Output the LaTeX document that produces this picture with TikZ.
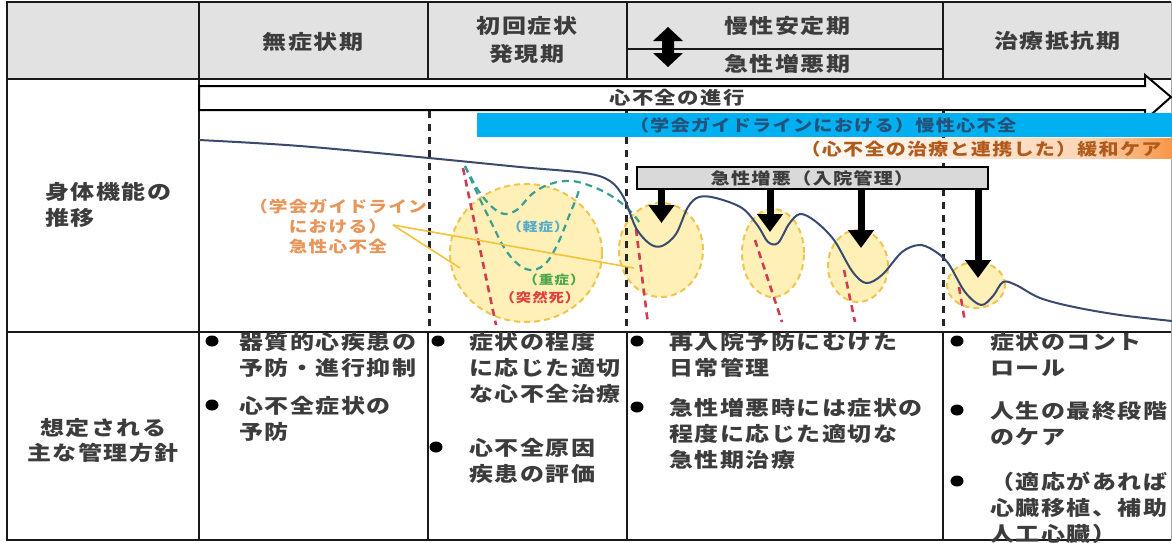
\documentclass[tikz,border=0pt]{standalone}
\usepackage{fontspec}
\usetikzlibrary{arrows.meta,shapes.geometric}
\newfontfamily\jp[FakeStretch=1.2,LetterSpace=7.5]{Noto Sans CJK JP}
\newcommand{\jpb}{\jp\bfseries}
\definecolor{hdr}{HTML}{E2E2E2}
\definecolor{txtg}{HTML}{3C3C3C}
\definecolor{curvec}{HTML}{3A4A6E}
\definecolor{ycfill}{HTML}{FFEFB0}
\definecolor{ycdraw}{HTML}{EEC550}
\definecolor{bluebar}{HTML}{00B0F0}
\definecolor{bluetxt}{HTML}{24527A}
\definecolor{orng}{HTML}{F79646}
\definecolor{orngtxt}{HTML}{B05A1C}
\definecolor{lbltxt}{HTML}{E8955A}
\definecolor{redd}{HTML}{D03C50}
\definecolor{teal}{HTML}{3A9E92}
\definecolor{lighttxt}{HTML}{55AACC}
\definecolor{greentxt}{HTML}{4CA64C}
\definecolor{redtxt}{HTML}{E04040}
\definecolor{goldline}{HTML}{F2C43A}
\definecolor{graybox}{HTML}{D9D9D9}
\tikzset{
  tbl/.style={line width=2pt, draw=black!90},
  vdash/.style={line width=3pt, draw=black!85, dash pattern=on 7pt off 6pt},
  reddash/.style={line width=2.6pt, draw=redd, dash pattern=on 7pt off 5pt},
  tealdash/.style={line width=2.2pt, draw=teal, dash pattern=on 7pt off 5pt},
  ycirc/.style={ellipse, inner sep=0pt, fill=ycfill, fill opacity=0.9, draw=ycdraw, line width=2pt, dash pattern=on 6pt off 4pt},
  hd/.style={font=\jpb\fontsize{20}{28}\selectfont, text=txtg, inner sep=0pt},
  body/.style={font=\jpb\fontsize{20}{26}\selectfont, text=txtg, inner sep=0pt, anchor=north west, align=left},
  bul/.style={ellipse, fill=black, minimum width=13pt, minimum height=11pt, inner sep=0pt},
  bigarrow/.style={line width=7pt, draw=black, -{Triangle[width=25pt,length=18pt]}},
  goldln/.style={line width=1.6pt, draw=goldline},
}
\begin{document}
\begin{tikzpicture}[x=1pt,y=-1pt]
\useasboundingbox (0,0) rectangle (1172,542);
\fill[white] (0,0) rectangle (1172,542);
% header fill
\fill[hdr] (7,2) rectangle (1171,79);
% yellow circles
\node[ycirc, minimum width=152pt, minimum height=138pt] (c1) at (526,253) {};
\node[ycirc, minimum width=84pt, minimum height=94pt] (c2) at (661,250) {};
\node[ycirc, minimum width=62pt, minimum height=88pt] (c3) at (773,253) {};
\node[ycirc, minimum width=60pt, minimum height=72pt] (c4) at (858,266) {};
\node[ycirc, minimum width=58pt, minimum height=46pt] (c5) at (976,285) {};
% table lines
\draw[line width=1pt, draw=black!35] (1171,2) -- (1171,540);
\draw[tbl] (1171,2) -- (7,2) -- (7,540) -- (1171,540);
\draw[tbl] (7,79) -- (1171,79);
\draw[tbl] (7,332) -- (1171,332);
\draw[tbl] (199,2) -- (199,540);
\draw[tbl] (428,2) -- (428,79);
\draw[tbl] (627,2) -- (627,79);
\draw[tbl] (943,2) -- (943,79);
\draw[tbl] (627,49) -- (943,49);
\draw[tbl] (428,332) -- (428,540);
\draw[tbl] (627,332) -- (627,540);
\draw[tbl] (943,332) -- (943,540);
% dashed vertical separators in row 2
\draw[vdash] (429,111) -- (429,331);
\draw[vdash] (626,111) -- (626,331);
\draw[vdash] (943,111) -- (943,331);
% double arrow in header
\fill[black] (668,27) -- (683,41) -- (674,41) -- (674,53) -- (683,53) -- (668,67) -- (653,53) -- (662,53) -- (662,41) -- (653,41) -- cycle;
% progression arrow
\draw[line width=2pt, fill=white] (199,86) -- (1145,86) -- (1145,75) -- (1171,97) -- (1145,120) -- (1145,110) -- (199,110) -- cycle;
\node[font=\jpb\fontsize{17.8}{17.8}\selectfont, text=txtg, inner sep=0pt] (prog) at (677,98) {心不全の進行};
% blue bar
\fill[bluebar] (477,113) rectangle (1172,137);
\node[font=\jpb\fontsize{16}{16}\selectfont, text=bluetxt, inner sep=0pt] (chronic) at (823,125) {（学会ガイドラインにおける）慢性心不全};
% orange bar
\shade[left color=white, right color=orng!40] (800,138) rectangle (1090,158);
\shade[left color=orng!40, right color=orng] (1090,138) rectangle (1172,158);
\node[font=\jpb\fontsize{16.7}{16.7}\selectfont, text=orngtxt, inner sep=0pt] (palliative) at (981,149) {（心不全の治療と連携した）緩和ケア};
% red dashed lines (sudden death)
\draw[reddash] (463,168) -- (496,325);
\draw[reddash] (636,229) -- (648,324);
\draw[reddash] (755,240) -- (782,322);
\draw[reddash] (844,270) -- (855,322);
\draw[reddash] (959,287) -- (965,322);
% teal dashed curves
\draw[tealdash] plot[smooth, tension=0.6] coordinates {(465,166) (478,190) (492,207) (505,214) (518,209) (532,194) (550,184) (572,181) (596,188) (616,199) (632,213) (642,226)};
\draw[tealdash] plot[smooth, tension=0.6] coordinates {(465,166) (478,195) (492,224) (505,249) (519,265) (533,270) (547,262) (559,241) (569,216) (576,199) (579,190)};
% main curve
\draw[curvec, line width=2pt] plot[smooth, tension=0.55] coordinates {(199,140) (300,146) (429,158) (520,167) (585,173) (610,181) (624,198) (636,228) (650,244) (662,246) (676,234) (688,207) (699,197) (716,198) (742,208) (758,226) (768,242) (778,243) (789,224) (800,214) (815,221) (834,240) (852,271) (866,283) (882,275) (902,252) (919,245) (933,250) (948,263) (965,292) (981,305) (993,296) (1003,282) (1016,285) (1040,298) (1074,307) (1120,315) (1172,321)};
% gray box
\node[draw=black, line width=2pt, fill=graybox, minimum width=351pt, minimum height=22pt, inner sep=0pt] (gbox) at (812.5,178) {};
\node[font=\jpb\fontsize{16}{16}\selectfont, text=txtg, inner sep=0pt] (gboxt) at (812,178) {急性増悪（入院管理）};
% black arrows
\coordinate (a1s) at (661.5,189); \coordinate (a1e) at (661.5,223);
\coordinate (a2s) at (770,189); \coordinate (a2e) at (770,232);
\coordinate (a3s) at (861,189); \coordinate (a3e) at (861,248);
\coordinate (a4s) at (978,189); \coordinate (a4e) at (978,278);
\draw[bigarrow] (a1s) -- (a1e);
\draw[bigarrow] (a2s) -- (a2e);
\draw[bigarrow] (a3s) -- (a3e);
\draw[bigarrow] (a4s) -- (a4e);
% acute HF label and pointer lines
\coordinate (lp) at (393,225);
\coordinate (lp1) at (460,268);
\coordinate (lp2) at (634,268);
\draw[goldln] (lp) -- (lp1);
\draw[goldln] (lp) -- (lp2);
\node[font=\jpb\fontsize{15.6}{20}\selectfont, text=lbltxt, inner sep=0pt, align=center] (acute) at (338,227) {（学会ガイドライン\\における）\\急性心不全};
\node[font=\jpb\fontsize{12.3}{12.3}\selectfont, text=lighttxt, inner sep=0pt] (mild) at (538,227) {（軽症）};
\node[font=\jpb\fontsize{12.3}{12.3}\selectfont, text=greentxt, inner sep=0pt] (severe) at (554,280) {（重症）};
\node[font=\jpb\fontsize{12.8}{12.8}\selectfont, text=redtxt, inner sep=0pt] (sudden) at (540,298) {（突然死）};
% header texts
\node[hd] (h1) at (313,42) {無症状期};
\node[hd, align=center] (h2) at (527,40) {初回症状\\発現期};
\node[hd] (h3) at (787,26) {慢性安定期};
\node[hd] (h4) at (787,64) {急性増悪期};
\node[hd] (h5) at (1057,41) {治療抵抗期};
% row labels
\node[body] (r2) at (45,182) {身体機能の\\推移};
\node[font=\jpb\fontsize{20}{25}\selectfont, text=txtg, inner sep=0pt, align=center] (r3) at (103,440) {想定される\\主な管理方針};
% bullets column 2
\node[bul] (b21) at (212,341) {};
\node[body] (t21) at (239,332) {器質的心疾患の\\予防・進行抑制};
\node[bul] (b22) at (212,405) {};
\node[body] (t22) at (239,396) {心不全症状の\\予防};
% column 3
\node[bul] (b31) at (438,341) {};
\node[body] (t31) at (469,332) {症状の程度\\に応じた適切\\な心不全治療};
\node[bul] (b32) at (436,447) {};
\node[body] (t32) at (469,438) {心不全原因\\疾患の評価};
% column 4
\node[bul] (b41) at (637,341) {};
\node[body] (t41) at (669,332) {再入院予防にむけた\\日常管理};
\node[bul] (b42) at (637,407) {};
\node[body] (t42) at (669,398) {急性増悪時には症状の\\程度に応じた適切な\\急性期治療};
% column 5
\node[bul] (b51) at (957,341) {};
\node[body] (t51) at (990,332) {症状のコント\\ロール};
\node[bul] (b52) at (957,410) {};
\node[body] (t52) at (990,401) {人生の最終段階\\のケア};
\node[bul] (b53) at (957,481) {};
\node[body] (t53) at (990,472) {（適応があれば\\心臓移植、補助\\人工心臓）};
\end{tikzpicture}
\end{document}
